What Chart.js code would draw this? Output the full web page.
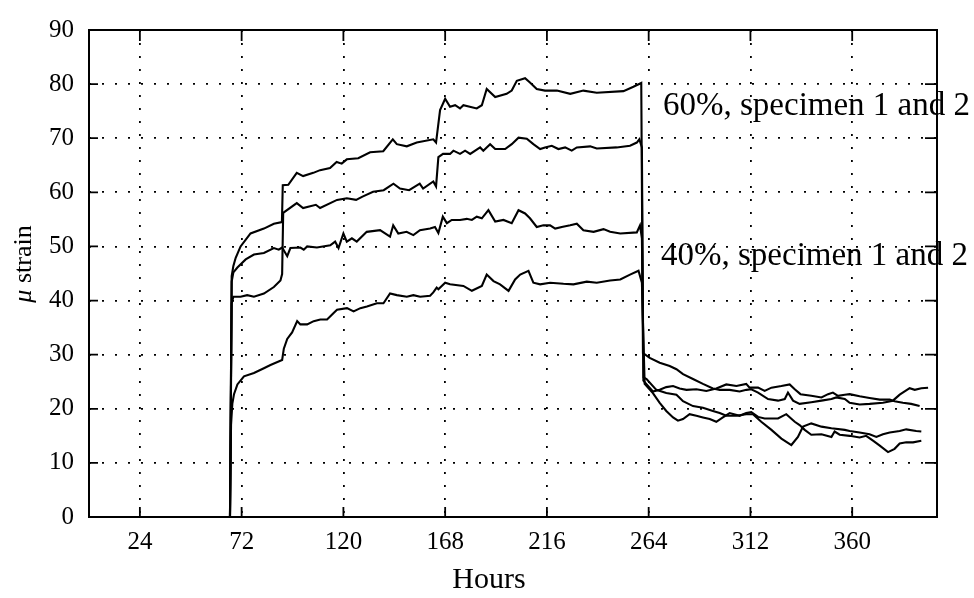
<!DOCTYPE html>
<html>
<head>
<meta charset="utf-8">
<script src="https://cdn.jsdelivr.net/npm/chart.js@4.4.1/dist/chart.umd.min.js"></script>
<style>
  html, body { margin: 0; padding: 0; background: #fff; }
  #wrap { width: 974px; height: 598px; }
</style>
</head>
<body>
<div id="wrap"><canvas id="myChart" width="974" height="598"></canvas></div>
<script>
// tick positions (hours) and strain ticks
const xTicks = [24, 72, 120, 168, 216, 264, 312, 360];
const yTicks = [0, 10, 20, 30, 40, 50, 60, 70, 80, 90];

// [hours, micro strain]
const spec60a = [
  [0,0],[66.5,0],[67.3,44.5],[68.1,46.4],[69.2,47.9],[71.5,50],[76.2,52.4],[82.5,53.3],[87.2,54.2],[91.0,54.5],
  [91.4,61.3],[94,61.4],[98,63.6],[101,63.0],[105.8,63.6],[109,64.1],[113.7,64.5],[116.8,65.6],[119.2,65.3],[121.6,66.1],
  [127,66.3],[132.6,67.4],[138.8,67.6],[143.3,69.8],[145.2,68.9],[149.9,68.5],[154.6,69.2],[162.4,69.8],[163.7,69.2],
  [165.6,75.2],[168,77.3],[170.3,75.8],[172.7,76.1],[175,75.5],[176.6,76.1],[182.9,75.5],[185.3,76.1],[187.6,79.1],
  [191.6,77.6],[197,78.2],[199.4,78.8],[201.8,80.6],[205.7,81.1],[208,80.3],[211.2,79.1],[215.1,78.8],[220.7,78.8],
  [227,78.2],[233.2,78.8],[239.5,78.4],[252.1,78.7],[256.8,79.5],[260.5,80.2],
  [261.3,30.3],[264.5,29.4],[269.2,28.5],[273.9,27.9],[277.1,27.3],[280.2,26.4],[284.9,25.5],[289.6,24.6],[294.3,23.75],
  [297.5,23.5],[302.2,23.5],[306.9,23.2],[310.1,23.5],[312.4,23.6],[315.6,23.0],[320.3,21.8],[325,21.5],[328.2,21.8],
  [329.7,23.0],[332.1,21.5],[335.2,20.9],[340.7,21.2],[345.5,21.5],[350.2,21.8],[352.5,22.1],[356.5,21.8],[358.8,21.1],
  [363.5,20.8],[368.2,20.9],[374.5,21.1],[379.2,21.5],[382.4,22.6],[387.1,23.8],[389.5,23.5],[392.6,23.8],[395.8,23.9]
];
const spec60b = [
  [0,0],[66.5,0],[67.3,39.5],[68.1,40.7],[71.5,40.7],[74.6,41.0],[77.8,40.7],[82.5,41.3],[87.2,42.5],[90.3,43.7],[91.1,44.9],
  [91.6,56.2],[98,58.0],[101,57.1],[107,57.7],[109,57.1],[117,58.6],[121.6,58.9],[126,58.6],[129,59.2],[134,60.1],
  [139,60.4],[143.6,61.6],[146.7,60.7],[151,60.4],[156,61.6],[157.6,60.7],[162.4,62.0],[163.7,61.1],
  [164.8,66.5],[167,67.1],[170.3,67.1],[171.9,67.7],[175,67.1],[177.4,67.7],[179.8,67.1],[184.5,68.3],[186,67.7],
  [189.2,68.9],[191.6,68.0],[196.3,68.0],[199.4,68.9],[202.6,70.1],[206.5,69.9],[209.6,68.9],[212.8,68.0],[215.1,68.3],
  [218.3,68.6],[221.4,68.0],[224.6,68.3],[227.7,67.7],[230.1,68.3],[236.4,68.5],[239.5,68.1],[248.9,68.3],[255.2,68.6],
  [258.4,69.2],[259.6,69.8],[260.8,68.3],
  [261.5,25.2],[266,23.2],[269.2,23.5],[272.3,24.0],[275.5,24.2],[278.6,23.75],[281.8,23.5],[286.5,23.6],[291.2,23.3],
  [295.9,23.75],[300.6,24.5],[305.4,24.2],[310,24.6],[311.6,23.9],[315.6,23.9],[318.7,23.3],[321.9,23.9],[326.6,24.2],
  [330.5,24.5],[332.9,23.6],[335.6,22.7],[340.7,22.4],[345.5,22.1],[348.6,22.7],[350.9,23.0],[353.3,22.4],[356.5,22.6],
  [358.8,22.7],[363.5,22.3],[368.2,22.0],[373,21.7],[377.7,21.7],[380,21.4],[383.9,21.1],[387.8,20.9],[391.8,20.5]
];
const spec40a = [
  [0,0],[66.5,0],[67.3,43.5],[68.1,45.2],[70,46.1],[73.9,47.6],[77.8,48.5],[82.5,48.8],[87.2,49.7],[89.5,49.4],[91.1,49.8],
  [93.5,48.2],[95,49.7],[99.7,49.8],[101.3,49.4],[102.9,50],[107.5,49.8],[113.8,50.2],[116.1,50.9],[117.7,49.7],[120,52.4],
  [121.6,50.9],[124,51.5],[126.3,50.9],[131,52.7],[137.3,53],[142,51.8],[143.5,53.9],[145.9,52.4],[149.8,52.7],[153,52.1],
  [156.1,53],[160.9,53.3],[163.2,53.6],[164.8,52.5],[166.9,55.5],[168.8,54.3],[171.1,54.9],[175,54.9],[178.2,55.1],
  [180.6,54.9],[182.9,55.5],[185.3,55.2],[188.4,56.7],[191.6,54.6],[195.5,54.9],[199.4,54.3],[202.6,56.7],[205.7,56.1],
  [208,55.2],[211.2,53.6],[214.3,53.9],[217.5,53.9],[219.9,53.3],[223,53.6],[227,53.9],[230.1,54.2],[233.2,53.0],
  [238,52.7],[242.7,53.2],[245.8,52.7],[250.6,52.4],[258.4,52.6],[259.9,53.9],[260.8,51.5],
  [261.6,25.8],[263,25.5],[267.6,23.5],[272.3,22.9],[277.1,22.6],[280.2,21.4],[284.9,20.5],[289.6,20.2],[294.3,19.6],
  [297.5,19.2],[300.6,18.7],[305.4,18.7],[310,19.0],[313.2,19.0],[317.1,17.6],[321.9,16.1],[326.6,14.5],[331.3,13.3],
  [334.4,14.8],[336.8,16.7],[340.7,17.3],[345.5,16.7],[350.2,16.4],[356.5,16.1],[358.8,15.9],[363.5,15.6],[368.2,15.3],
  [371.4,14.8],[374.5,15.3],[377.7,15.6],[382.4,15.9],[385.5,16.2],[390.2,15.9],[392.6,15.8]
];
const spec40b = [
  [0,0],[66.5,0],[67,17],[67.6,20.9],[68.4,22.7],[70,24.5],[73.1,26],[77.8,26.6],[82.5,27.5],[85.6,28.1],[91.1,29],
  [91.9,31.1],[93.5,32.9],[95.8,34.1],[98.2,36.2],[99.7,35.6],[102.9,35.6],[106,36.2],[109.1,36.5],[112.3,36.5],
  [115.4,37.7],[117,38.3],[121.7,38.6],[124.8,38],[128,38.6],[131.1,38.9],[135.8,39.5],[138.9,39.5],[142,41.3],
  [145.2,41],[149.9,40.7],[153,41],[156.2,40.7],[160.9,40.9],[162.4,41.5],[164,42.4],[164.8,42.1],[168,43.3],
  [170.3,43.0],[176.6,42.7],[180.6,41.8],[185.3,42.7],[187.6,44.8],[190.8,43.6],[193.9,43.0],[197.9,41.8],[201,43.9],
  [203.4,44.8],[207.3,45.5],[209.6,43.3],[212.8,43.0],[217.5,43.3],[223.8,43.1],[228.5,43.0],[234.8,43.5],[239.5,43.3],
  [245.8,43.7],[250.6,43.9],[255.2,44.8],[259.2,45.5],[260.8,43.3],
  [262.1,24.6],[266,22.9],[269.2,21.1],[272.3,19.6],[275.5,18.4],[277.8,17.8],[280.2,18.1],[283.3,19.0],[286.5,18.7],
  [289.6,18.4],[292.8,18.1],[295.9,17.6],[299,18.4],[302.2,19.2],[306.9,18.7],[310,19.2],[312.4,19.4],[315.6,18.5],
  [318.7,18.2],[325,18.2],[328.9,19.0],[332.9,17.6],[335.2,17.0],[337.6,16.1],[340.7,15.2],[345.5,15.3],[350.2,14.8],
  [351.7,15.8],[354.1,15.2],[358.8,15.0],[363.5,14.7],[366.6,15.0],[369.8,14.1],[373,13.2],[376.9,12.0],[380,12.6],
  [382.4,13.6],[385.5,13.8],[388.7,13.8],[392.6,14.1]
];

const seriesList = [spec60a, spec60b, spec40a, spec40b];

const serif = '"Liberation Serif", "Times New Roman", serif';

const framePlugin = {
  id: 'frame',
  afterDraw(chart) {
    const { ctx, chartArea: a, scales: { x, y } } = chart;
    ctx.save();
    ctx.strokeStyle = '#000';
    ctx.lineWidth = 2;
    ctx.strokeRect(a.left, a.top, a.right - a.left, a.bottom - a.top);
    ctx.lineWidth = 1.8;
    ctx.beginPath();
    xTicks.forEach(v => {
      const px = x.getPixelForValue(v);
      ctx.moveTo(px, a.bottom); ctx.lineTo(px, a.bottom - 10);
      ctx.moveTo(px, a.top); ctx.lineTo(px, a.top + 11);
    });
    yTicks.forEach(v => {
      const py = y.getPixelForValue(v);
      ctx.moveTo(a.left, py); ctx.lineTo(a.left + 9, py);
      ctx.moveTo(a.right, py); ctx.lineTo(a.right - 12, py);
    });
    ctx.stroke();

    // labels
    ctx.fillStyle = '#000';
    ctx.textAlign = 'left';
    ctx.textBaseline = 'alphabetic';
    ctx.font = '33px ' + serif;
    ctx.fillText('60%, specimen 1 and 2', 663, 115);
    ctx.fillText('40%, specimen 1 and 2', 661, 265);

    ctx.textAlign = 'center';
    ctx.font = '30px ' + serif;
    ctx.fillText('Hours', 489, 588);

    ctx.translate(31, 264);
    ctx.rotate(-Math.PI / 2);
    ctx.textAlign = 'left';
    const mu = 'μ', rest = ' strain';
    ctx.font = 'italic 26px ' + serif;
    const wMu = ctx.measureText(mu).width;
    ctx.font = '26px ' + serif;
    const wRest = ctx.measureText(rest).width;
    const start = -(wMu + wRest) / 2;
    ctx.font = 'italic 26px ' + serif;
    ctx.fillText(mu, start, 0);
    ctx.font = '26px ' + serif;
    ctx.fillText(rest, start + wMu, 0);
    ctx.restore();
  }
};

const gridOpts = { color: '#000', lineWidth: 1.8, drawTicks: false };

new Chart(document.getElementById('myChart'), {
  type: 'line',
  data: {
    datasets: seriesList.map(s => ({
      data: s.map(p => ({ x: p[0], y: p[1] })),
      borderColor: '#000',
      borderWidth: 2.1,
      pointRadius: 0,
      tension: 0,
      fill: false
    }))
  },
  options: {
    responsive: false,
    animation: false,
    layout: { padding: { top: 19, right: 37, left: 0, bottom: 0 } },
    plugins: { legend: { display: false }, tooltip: { enabled: false } },
    scales: {
      x: {
        type: 'linear',
        min: 0,
        max: 400,
        afterBuildTicks: scale => { scale.ticks = xTicks.map(v => ({ value: v })); },
        afterFit: scale => { scale.height = 81; },
        ticks: { color: '#000', font: { family: serif, size: 25 }, padding: 10, maxRotation: 0, autoSkip: false },
        grid: gridOpts,
        border: { display: false, dash: [2, 11] }
      },
      y: {
        min: 0,
        max: 90,
        afterBuildTicks: scale => { scale.ticks = yTicks.map(v => ({ value: v })); },
        afterFit: scale => { scale.width = 89; },
        ticks: { color: '#000', font: { family: serif, size: 25 }, padding: 15 },
        grid: gridOpts,
        border: { display: false, dash: [2, 11] }
      }
    }
  },
  plugins: [framePlugin]
});
</script>
</body>
</html>
